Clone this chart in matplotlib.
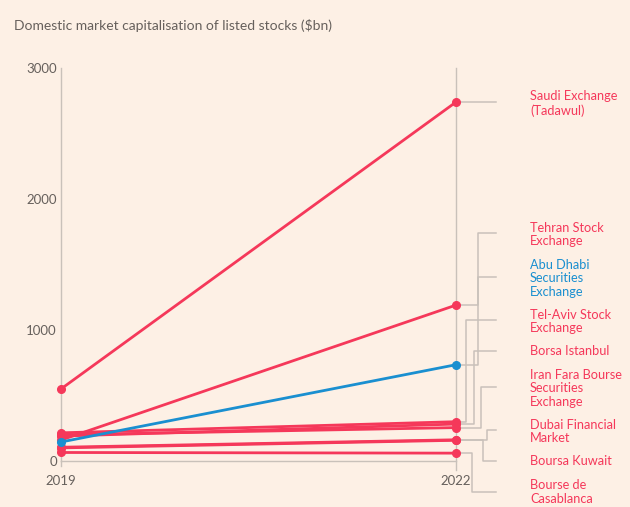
import matplotlib
matplotlib.use("Agg")
import matplotlib.pyplot as plt

# --- data ---
exchanges = ["Saudi Exchange\n(Tadawul)", "Tehran Stock\nExchange", "Abu Dhabi\nSecurities\nExchange",
             "Tel-Aviv Stock\nExchange", "Borsa Istanbul", "Iran Fara Bourse\nSecurities\nExchange",
             "Dubai Financial\nMarket", "Boursa Kuwait", "Bourse de\nCasablanca"]
cap_2019 = [550, 160, 145, 215, 190, 200, 105, 100, 65]
cap_2022 = [2740, 1190, 735, 300, 282, 255, 162, 158, 60]
highlight = [False, False, True, False, False, False, False, False, False]
years = [2019, 2022]
yticks = [0, 1000, 2000, 3000]

RED = "#f5385a"
BLUE = "#1a8fd0"
GREY = "#c9c1ba"
TXT = "#66605c"
BG = "#fdf0e5"

W, H = 630, 507
plt.rcParams["font.family"] = ["Lato", "DejaVu Sans"]
fig = plt.figure(figsize=(W / 100, H / 100), dpi=100, facecolor=BG)
# axes placed so 2019 -> x=61px, 2022 -> x=456px, 0 -> y=461px, 3000 -> y=68px
ax = fig.add_axes([61 / W, 1 - 461 / H, 395 / W, 393 / H], facecolor=BG)
ax.set_xlim(2019, 2022)
ax.set_ylim(0, 3000)


def px_x(px):
    return 2019 + (px - 61) / 395 * 3


def px_y(py):
    return (461 - py) * 3000 / 393


# series
for v0, v1, hl in zip(cap_2019, cap_2022, highlight):
    c = BLUE if hl else RED
    ax.plot(years, [v0, v1], color=c, lw=2.0, marker="o", ms=5.5,
            solid_capstyle="round", clip_on=False, zorder=5 if hl else 4)

# axes frame
for s in ["top", "right"]:
    ax.spines[s].set_visible(False)
ax.spines["left"].set_color(GREY)
ax.spines["bottom"].set_color(GREY)
ax.spines["left"].set_linewidth(1.0)
ax.spines["bottom"].set_linewidth(1.0)
ax.plot([2022, 2022], [px_y(470), 3000], color=GREY, lw=1.0, clip_on=False, zorder=1)
ax.plot([2019, 2019], [px_y(466), 0], color=GREY, lw=1.0, clip_on=False, zorder=1)

ax.set_xticks(years)
ax.set_xticklabels([str(y) for y in years])
ax.set_yticks(yticks)
ax.set_yticklabels([str(t) for t in yticks])
ax.tick_params(axis="both", length=0, colors=TXT, labelsize=9.5)
ax.tick_params(axis="x", pad=10)
ax.tick_params(axis="y", pad=3)
for lab in ax.get_xticklabels() + ax.get_yticklabels():
    lab.set_color(TXT)

# connectors: (elbow x px, label y px, label centre px)
elbow_px = [None, 478, 478, 466, 474, 481, 487, 483, 472]
tick_px = [102, 233, 277, 320, 351, 387, 430, 461, 492]
label_px = [103.5, 234.5, 278.5, 321.5, 351, 388.5, 431.5, 461, 492]
end_x = px_x(496)
for i, (name, v1, hl) in enumerate(zip(exchanges, cap_2022, highlight)):
    ly = px_y(tick_px[i])
    if elbow_px[i] is None:
        xs, ys = [2022, end_x], [v1, v1]
    else:
        ex = px_x(elbow_px[i])
        xs, ys = [2022, ex, ex, end_x], [v1, v1, ly, ly]
    ax.plot(xs, ys, color=GREY, lw=1.1, clip_on=False, zorder=2)
    ax.text(px_x(530), px_y(label_px[i]), name, color=BLUE if hl else RED,
            fontsize=9.2, ha="left", va="center", linespacing=1.15, clip_on=False)

fig.text(14 / W, 1 - 25 / H, "Domestic market capitalisation of listed stocks ($bn)",
         color=TXT, fontsize=10, ha="left", va="center")

fig.savefig("out.png", dpi=100, facecolor=BG)
